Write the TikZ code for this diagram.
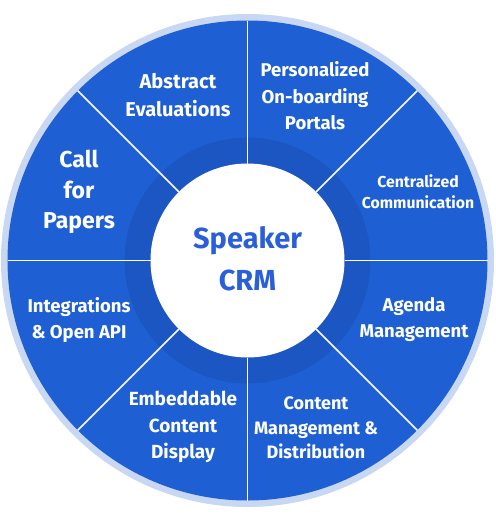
\documentclass[tikz,border=0pt]{standalone}
\usepackage{fontspec}
\setmainfont{Fira Sans}
\usetikzlibrary{calc}
\definecolor{ringlight}{RGB}{200,215,242}
\definecolor{segblue}{RGB}{30,96,212}
\definecolor{ringdark}{RGB}{27,86,194}
\definecolor{crmblue}{RGB}{43,95,217}

\begin{document}
\begin{tikzpicture}[
  x=1pt, y=-1pt,
  seg/.style 2 args={text=white, align=center, inner sep=0pt,
              font=\fontsize{#1}{#2}\selectfont\bfseries},
  divider/.style={draw=white, line width=1.6pt},
]
\useasboundingbox (0,0) rectangle (496,523);
\coordinate (c) at (247.5,260.5);

% rings
\fill[ringlight] (c) circle[radius=246.5];
\fill[segblue]   (c) circle[radius=240];
\fill[ringdark]  (c) circle[radius=123];
\foreach \a in {0,45,...,315}
  \draw[divider] ($(c)+(\a:97)$) -- ($(c)+(\a:240)$);
\node[circle, fill=white, minimum size=194pt, inner sep=0pt] (hub) at (c) {};
\node[text=crmblue, align=center, font=\fontsize{29}{42}\selectfont\bfseries]
  (crm) at (247.5,259) {Speaker\\CRM};

% segments
\node[seg={20}{28}]     (abstract) at (178,95)  {Abstract\\Evaluations};
\node[seg={18.5}{26.5}] (portals)  at (315,96)  {Personalized\\On-boarding\\Portals};
\node[seg={15.8}{21}]   (comm)     at (418,192) {Centralized\\Communication};
\node[seg={23}{30.5}]   (cfp)      at (79,192)  {Call\\for\\Papers};
\node[seg={18.5}{26}]   (api)      at (79,320)  {Integrations\\\& Open API};
\node[seg={18.5}{26}]   (agenda)   at (414,320) {Agenda\\Management};
\node[seg={19}{26.5}]   (embed)    at (183,427) {Embeddable\\Content\\Display};
\node[seg={18}{24.5}]   (content)  at (316,428) {Content\\Management \&\\Distribution};
\end{tikzpicture}
\end{document}
